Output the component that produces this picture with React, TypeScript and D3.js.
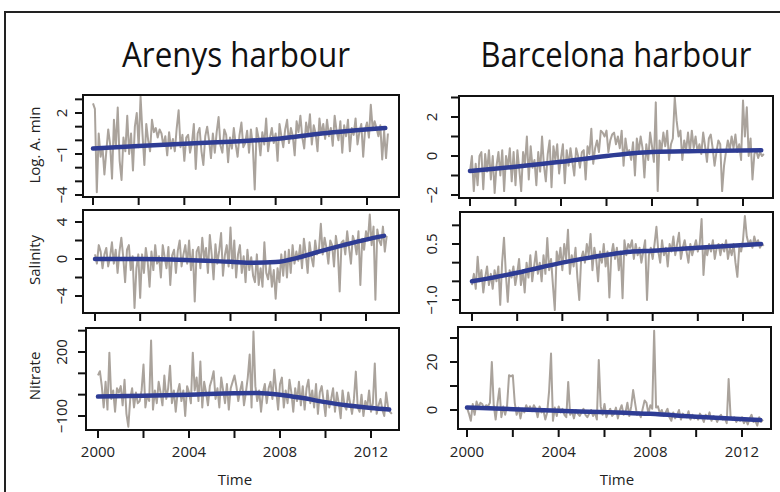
import React from 'react'
import * as d3 from 'd3'

// monthly series, January 2000 onwards (one row per year)
const arenysLogA = [
	2.7, 2.3, -3.8, 0.5, -1.2, -0.5, -2.5, -0.8, 0.8, -0.3, -2.8, 1.5,
	-0.5, 2.4, -1.5, -2.9, 0.2, -0.8, 1.8, -1.0, 0.5, -2.2, 1.0, 2.0,
	-0.5, 3.2, 0.5, -1.8, 1.2, 0.0, -0.8, 1.5, 0.6, 0.9, 0.2, 0.8,
	0.5, -0.4, 0.3, -1.1, 0.6, -0.6, 0.1, -0.8, 0.9, 2.2, -0.5, 0.4,
	-1.5, 0.2, 0.4, -0.9, -0.2, 1.2, -2.1, 0.5, 0.9, -0.8, -1.8, 0.3,
	1.0, 0.0, -1.3, 0.5, -0.9, 0.6, 1.7, -0.4, -0.9, 0.8, 0.4, -1.6,
	0.2, -0.6, 0.9, -0.3, -1.2, 0.4, 1.3, -0.5, -0.2, 0.7, -0.9, 0.8,
	-0.4, -3.6, 0.9, 0.2, -1.1, 0.6, -0.3, 1.6, -0.8, 0.2, 0.9, -0.2,
	0.5, -1.5, 1.2, 0.3, -0.5, 0.8, 1.5, -0.2, 0.9, 0.3, -1.1, 1.4,
	0.6, 1.8, 0.2, -0.6, 1.3, 0.4, 1.9, -0.3, 1.1, 0.5, -0.8, 1.6,
	0.4, 1.2, 0.1, 1.5, 0.3, 0.9, -0.4, 1.8, 0.7, 0.0, 1.4, -0.9,
	1.1, 0.3, 1.5, -0.8, 0.9, 0.4, 1.6, -0.3, 0.6, 1.2, -1.2, 0.8,
	1.3, 0.2, 2.6, 0.8, 1.4, 0.9, 0.3, 1.1, -1.4, 0.7, -1.3, 0.5,
]
const arenysSalinity = [
	0.5, -0.5, 1.5, 0.8, -1.0, 0.5, 1.2, -0.8, 0.2, 1.8, -0.5, 1.0,
	-1.5, 0.8, 2.3, 0.2, -2.5, 1.0, 1.5, -1.2, 0.3, -5.3, -1.0, 0.5,
	-4.2, 0.5, -1.5, 1.2, -0.3, -3.0, 0.8, -1.2, 1.5, -0.5, 0.3, -2.0,
	1.5, 0.2, -1.0, 1.3, -2.8, 0.4, 1.0, -1.5, 0.9, 2.0, -0.8, 0.5,
	1.5, -0.5, 2.0, -1.2, 1.0, -4.6, 0.8, 1.3, -1.0, 2.3, 0.0, 1.2,
	-1.5, 2.6, 0.5, -2.2, 1.6, -0.5, 0.9, 2.8, -1.8, 0.4, 1.5, -0.8,
	3.4, -1.0, 2.0, -2.0, 0.5, 1.5, -1.5, 0.3, -2.5, 1.0, -1.2, 0.2,
	-1.8, -2.5, 0.5, -2.8, -1.0, -3.0, 1.8, -1.5, -2.2, -0.5, -3.0, -1.2,
	-4.3, -1.0, -2.5, 0.5, -1.8, 0.8, -2.0, 1.0, -1.5, 1.5, -0.5, 0.8,
	-0.2, 1.5, -1.0, 2.2, 0.5, -1.5, 1.8, 0.2, -0.8, 2.0, 0.5, 1.0,
	3.8, 0.5, 2.3, 1.2, -0.5, 2.0, 1.5, -0.8, 2.5, 1.0, -3.5, 1.8,
	2.0, 0.5, 3.0, 1.2, -0.5, 2.5, 1.8, 0.5, 3.0, -2.8, 2.2, 1.0,
	3.0, 2.0, 4.8, 1.5, 3.5, -4.4, 3.2, 2.0, 1.5, 3.5, 0.8, 2.5,
]
const arenysNitrate = [
	90, 110, 40, -60, 60, -70, 197, -20, 20, -80, 30, 10,
	40, -50, 70, -90, -150, -20, 30, -60, 10, -40, -30, 20,
	141, -60, 0, -30, 254, -70, 20, -40, 60, 10, -50, 90,
	-20, 30, 136, -40, 20, -80, 10, 50, -30, 20, -100, 40,
	10, -40, 197, 20, 80, -30, 155, -60, 60, 10, -50, 40,
	70, 110, -20, 30, -60, 80, 20, -40, 50, -70, 30, 60,
	90, 40, -30, 20, 60, -50, 10, 80, 188, -60, 296, 40,
	-30, 20, -80, 10, 50, -40, 30, 60, -20, 117, 20, -70,
	50, 80, -60, 20, -40, 70, 10, -80, 30, -30, 60, -50,
	40, -70, 30, 70, -40, 20, -60, 50, -90, 10, 40, -30,
	-100, 20, -60, -20, 30, -80, 10, -40, -110, 20, -50, -70,
	10, -40, -90, -20, 108, -60, -80, 0, -100, -30, -60, 20,
	-80, -40, 146, -90, -50, -20, -70, -100, 10, -60, -80, -90,
]
const barcelonaLogA = [
	-0.8, 0.0, -1.8, -0.4, -1.5, 0.0, 0.2, -1.7, 0.1, -0.8, 0.3, -1.2,
	0.0, -1.9, -0.5, 0.2, -1.0, 0.3, -1.8, 0.0, -0.6, 0.4, -1.3, 0.2,
	-1.5, 0.3, -0.7, -1.8, 0.2, -0.4, 1.0, -1.2, 0.5, -0.6, -0.2, -1.5,
	0.2, -0.8, 1.0, -0.5, -1.3, 0.1, 0.8, -1.6, 0.5, -0.2, 0.6, -0.9,
	-0.1, 0.6, -1.4, 0.3, -0.5, 0.4, -0.3, -1.0, 0.4, 0.0, -0.6, 0.2,
	0.3, -1.2, 0.5, 0.1, 1.4, -0.4, 0.4, 0.8, 0.2, 1.3, 1.2, 1.0,
	1.3, 0.2, 0.8, 1.1, 1.2, 0.6, 1.0, 0.4, 1.3, -0.5, 0.9, 0.2,
	0.3, -0.2, 0.7, -1.0, 0.9, 0.2, 1.0, 0.4, -1.1, 0.6, -0.2, 1.2,
	0.5, -0.3, 2.75, -1.8, 0.8, 0.3, 1.2, 0.5, 1.3, -0.2, 0.6, 0.9,
	3.0, 1.8, 1.0, 1.3, -0.2, 0.8, 0.3, 1.2, 0.2, 1.3, 0.4, 1.0,
	0.2, 0.6, 0.1, 1.2, 0.5, -0.3, 0.9, 1.1, 0.4, -0.5, 0.2, 0.8,
	0.6, -1.8, -0.5, 0.2, 0.8, 0.3, 1.0, 0.4, 1.1, 0.2, 0.6, -0.2,
	2.85, 1.0, 2.5, 0.0, 0.9, -1.2, 0.1, 0.3, -0.1, 0.2, 0.0, 0.1,
]
const barcelonaSalinity = [
	-0.6, -0.3, -0.7, 0.16, -0.5, -0.2, -0.8, -0.4, -0.1, -0.6, -0.3, -0.7,
	-0.2, -0.5, -0.1, -1.13, 0.0, 0.67, -0.3, -1.05, -0.2, -0.4, -0.1, -0.6,
	-0.3, 0.1, -0.6, -0.2, -0.8, 0.0, -0.4, 0.2, -0.5, -0.1, 0.3, -0.3,
	0.0, -0.5, 0.2, -0.3, 0.66, -0.2, 0.1, -0.6, -1.27, 0.3, 0.0, 0.4,
	-0.2, 0.5, 0.1, 0.88, -0.3, 0.2, -0.1, 0.4, -0.4, -1.0, 0.1, 0.3,
	0.0, 0.5, 0.2, 0.77, -0.2, 0.4, 0.1, -0.5, 0.3, 0.0, 0.5, -0.1,
	0.3, -0.93, 0.2, 0.5, 0.1, 0.4, -0.2, 0.3, -0.95, 0.6, 0.2, 0.5,
	0.4, 0.6, 0.1, 0.5, 0.2, 0.4, 0.0, 0.3, 0.6, -1.0, 0.2, 0.4,
	0.1, 0.5, 0.96, 0.3, 0.0, 0.6, 0.2, 0.4, -0.1, 0.5, 0.3, 0.7,
	0.2, 0.5, 0.8, 0.1, 0.4, 0.6, 0.3, 0.0, 0.5, 0.2, 0.4, 0.6,
	0.3, 0.5, 1.17, -0.33, 0.4, 0.2, 0.5, 0.3, 0.6, 0.1, 0.4, 0.5,
	0.2, 0.5, 0.3, 0.6, 0.1, 0.4, 0.2, 0.5, 0.0, -0.38, 0.4, 0.3,
	0.6, 1.25, 0.7, 0.5, 0.6, 0.4, 0.7, 0.5, 0.6, 0.4, 0.5, 0.45,
]
const barcelonaNitrate = [
	1.0, -1.5, -4.5, 2.5, -2.0, 3.5, 1.0, 3.0, 2.5, 0.5, 2.0, 1.5,
	3.0, 20.0, 2.0, -4.0, 3.0, 9.0, -3.0, 1.5, -2.0, 2.0, 14.5, 14.0,
	14.5, 3.0, -2.0, 1.0, -3.5, 0.5, -1.0, 2.0, 0.0, 1.5, -0.5, 2.0,
	0.5, -3.0, 1.5, -1.0, 0.0, -4.0, -1.0, 8.0, 23.5, -4.5, 1.0, -2.5,
	1.5, -1.0, 0.5, -2.0, -3.0, 11.7, -2.0, -0.5, -3.5, 0.0, -1.5, -2.5,
	-1.0, 0.5, -2.0, -3.0, -1.5, 0.0, -2.5, -1.0, -4.0, 20.8, 1.5, -2.0,
	2.5, -3.0, -1.0, 0.5, -2.5, -1.5, 1.0, -3.5, 0.0, 2.0, -2.0, -1.0,
	3.0, -2.5, 1.5, 8.3, 3.0, -2.0, -1.0, -3.0, 0.5, 4.0, 3.0, -1.5,
	2.0, 0.5, 33.0, 1.0, 1.5, -1.5, 0.0, -2.5, -1.0, 0.5, -3.0, -4.5,
	-1.0, -3.5, -2.0, 0.0, -4.0, -1.5, -2.5, -3.0, -0.5, -4.0, -2.0, -3.5,
	-2.5, -4.0, -1.5, -3.0, -5.0, -2.0, -3.5, -1.0, -4.5, -2.5, -3.0, -5.0,
	-3.0, -2.0, -4.0, -3.5, -5.5, 12.9, -2.5, -4.0, -3.0, -5.0, -3.5, -4.5,
	-3.0, -5.5, -4.0, -6.0, -3.5, -2.0, -5.0, -4.5, -6.5, -3.0, -5.0, -4.0,
]

// smooth trends (blue), read at a few years
const arenysLogATrendYears = [2000, 2002, 2004, 2006, 2008, 2010, 2012.8]
const arenysLogATrend = [-0.6, -0.42, -0.25, -0.1, 0.1, 0.5, 0.9]
const arenysSalTrendYears = [2000, 2002, 2004, 2006, 2007, 2008, 2009, 2010, 2011, 2012, 2012.8]
const arenysSalTrend = [0, 0, -0.1, -0.3, -0.4, -0.33, 0.15, 0.85, 1.5, 2.1, 2.5]
const arenysNitTrendYears = [2000, 2002, 2004, 2006, 2007, 2008, 2009, 2010, 2011, 2012, 2012.8]
const arenysNitTrend = [-9, -5, 0, 7, 8, 0, -16, -35, -51, -63, -70]
const barcLogATrendYears = [2000, 2002, 2004, 2006, 2008, 2010, 2012.8]
const barcLogATrend = [-0.77, -0.55, -0.3, 0, 0.2, 0.25, 0.3]
const barcSalTrendYears = [2000, 2002, 2004, 2006, 2007, 2008, 2010, 2012.8]
const barcSalTrend = [-0.5, -0.27, 0.0, 0.21, 0.29, 0.32, 0.4, 0.5]
const barcNitTrendYears = [2000, 2004, 2008, 2010, 2012.8]
const barcNitTrend = [1, -0.3, -1.6, -2.8, -4.2]

const xTicks = [2000, 2002, 2004, 2006, 2008, 2010, 2012]
const xTickLabels = [2000, 2004, 2008, 2012]
const titles = ['Arenys harbour', 'Barcelona harbour']
const rowLabels = ['Log. A. min', 'Salinity', 'Nitrate']

const logATicksL = [-4, -3, -2, -1, 0, 1, 2, 3]
const logALabelsL = [2, -1, -4]
const salTicksL = [-4, -2, 0, 2, 4]
const salLabelsL = [4, 0, -4]
const nitTicksL = [-100, 0, 100, 200, 300]
const nitLabelsL = [200, -100]
const logATicksR = [-2, -1, 0, 1, 2, 3]
const logALabelsR = [2, 0, -2]
const salTicksR = [-1, -0.5, 0, 0.5, 1]
const salLabelsR = [0.5, -1]
const nitTicksR = [0, 10, 20, 30]
const nitLabelsR = [20, 0]

const GRAY = '#aaa39c'
const BLUE = '#2e3c94'
const FONT = '"Open Sans", "Liberation Sans", sans-serif'

const fmt = (v: number, digits: number) => v.toFixed(digits).replace('-', '\u2212')

// box: [x0, y0, x1, y1]; xr: pixel of 2000 and 2012; yr: [v1, px1, v2, px2]
const panels = [
	{ id: 'a1', col: 0, row: 0, values: arenysLogA, ty: arenysLogATrendYears, tv: arenysLogATrend, ticks: logATicksL, labels: logALabelsL, digits: 0, box: [83, 95, 399, 197], xr: [93, 367], yr: [2, 113, -1, 154] },
	{ id: 'a2', col: 0, row: 1, values: arenysSalinity, ty: arenysSalTrendYears, tv: arenysSalTrend, ticks: salTicksL, labels: salLabelsL, digits: 0, box: [83, 210, 399, 313], xr: [95, 366], yr: [4, 222, -4, 296] },
	{ id: 'a3', col: 0, row: 2, values: arenysNitrate, ty: arenysNitTrendYears, tv: arenysNitTrend, ticks: nitTicksL, labels: nitLabelsL, digits: 0, box: [86, 328, 399, 430], xr: [98, 371], yr: [200, 352, -100, 416] },
	{ id: 'b1', col: 1, row: 0, values: barcelonaLogA, ty: barcLogATrendYears, tv: barcLogATrend, ticks: logATicksR, labels: logALabelsR, digits: 0, box: [459, 96, 773, 198], xr: [470, 743], yr: [2, 117, -2, 195] },
	{ id: 'b2', col: 1, row: 1, values: barcelonaSalinity, ty: barcSalTrendYears, tv: barcSalTrend, ticks: salTicksR, labels: salLabelsR, digits: 1, box: [460, 212, 773, 313], xr: [472, 743], yr: [0.5, 244, -1, 300] },
	{ id: 'b3', col: 1, row: 2, values: barcelonaNitrate, ty: barcNitTrendYears, tv: barcNitTrend, ticks: nitTicksR, labels: nitLabelsR, digits: 0, box: [458, 327, 771, 429], xr: [467, 742], yr: [20, 362, 0, 410] },
]

const Panel = ({ p }: { p: typeof panels[number] }) => {
	const [x0, y0, x1, y1] = p.box
	const x = d3.scaleLinear().domain([2000, 2012]).range(p.xr)
	const y = d3.scaleLinear().domain([p.yr[0], p.yr[2]]).range([p.yr[1], p.yr[3]])
	const series = p.values.map((v, i) => ({ t: 2000 + i / 12, v }))
	const trend = p.ty.map((t, i) => ({ t, v: p.tv[i] }))
	const grayLine = d3.line<{ t: number, v: number }>().x(d => x(d.t)).y(d => y(d.v))
	const blueLine = d3.line<{ t: number, v: number }>().curve(d3.curveMonotoneX).x(d => x(d.t)).y(d => y(d.v))
	const labelX = p.col === 0 ? 62 : 432
	const bottom = p.row === 2
	return (
		<g>
			<clipPath id={'clip-' + p.id}>
				<rect x={x0} y={y0} width={x1 - x0} height={y1 - y0} />
			</clipPath>
			<g clipPath={`url(#clip-${p.id})`}>
				<path d={grayLine(series) || ''} fill="none" stroke={GRAY} strokeWidth={2} strokeLinejoin="round" />
				<path d={blueLine(trend) || ''} fill="none" stroke={BLUE} strokeWidth={4.5} strokeLinecap="round" />
			</g>
			<rect x={x0} y={y0} width={x1 - x0} height={y1 - y0} fill="none" stroke="#111" strokeWidth={2} />
			{p.ticks.map(t => (
				<line key={'yt' + t} x1={x0 - 8} x2={x0} y1={y(t)} y2={y(t)} stroke="#111" strokeWidth={2} />
			))}
			{p.labels.map(t => (
				<text key={'yl' + t} transform={`translate(${labelX},${y(t)}) rotate(-90)`} dy="0.36em"
					textAnchor="middle" fontSize={15} fontFamily={FONT} fill="#222">{fmt(t, p.digits)}</text>
			))}
			{xTicks.map(t => (
				<line key={'xt' + t} x1={x(t)} x2={x(t)} y1={y1} y2={y1 + 8} stroke="#111" strokeWidth={2} />
			))}
			{bottom && xTickLabels.map(t => (
				<text key={'xl' + t} x={x(t)} y={457} textAnchor="middle" fontSize={15} fontFamily={FONT} fill="#222">{t}</text>
			))}
		</g>
	)
}

export default function App() {
	return (
		<svg width={780} height={492} style={{ position: 'absolute', left: 0, top: 0, background: '#fff' }}>
			<rect x={0} y={0} width={780} height={492} fill="#fff" />
			<path d="M5,492 V12 H780" fill="none" stroke="#222" strokeWidth={2} />
			<text x={236} y={67} textAnchor="middle" fontSize={34} fontFamily={FONT} fill="#111"
				textLength={228} lengthAdjust="spacingAndGlyphs">{titles[0]}</text>
			<text x={616} y={67} textAnchor="middle" fontSize={34} fontFamily={FONT} fill="#111"
				textLength={271} lengthAdjust="spacingAndGlyphs">{titles[1]}</text>
			{rowLabels.map((l, i) => (
				<text key={l} transform={`translate(40,${[145, 260, 376][i]}) rotate(-90)`} textAnchor="middle"
					fontSize={15} fontFamily={FONT} fill="#222">{l}</text>
			))}
			{panels.map(p => <Panel key={p.id} p={p} />)}
			<text x={235} y={485} textAnchor="middle" fontSize={15} fontFamily={FONT} fill="#222">Time</text>
			<text x={617} y={485} textAnchor="middle" fontSize={15} fontFamily={FONT} fill="#222">Time</text>
		</svg>
	)
}
